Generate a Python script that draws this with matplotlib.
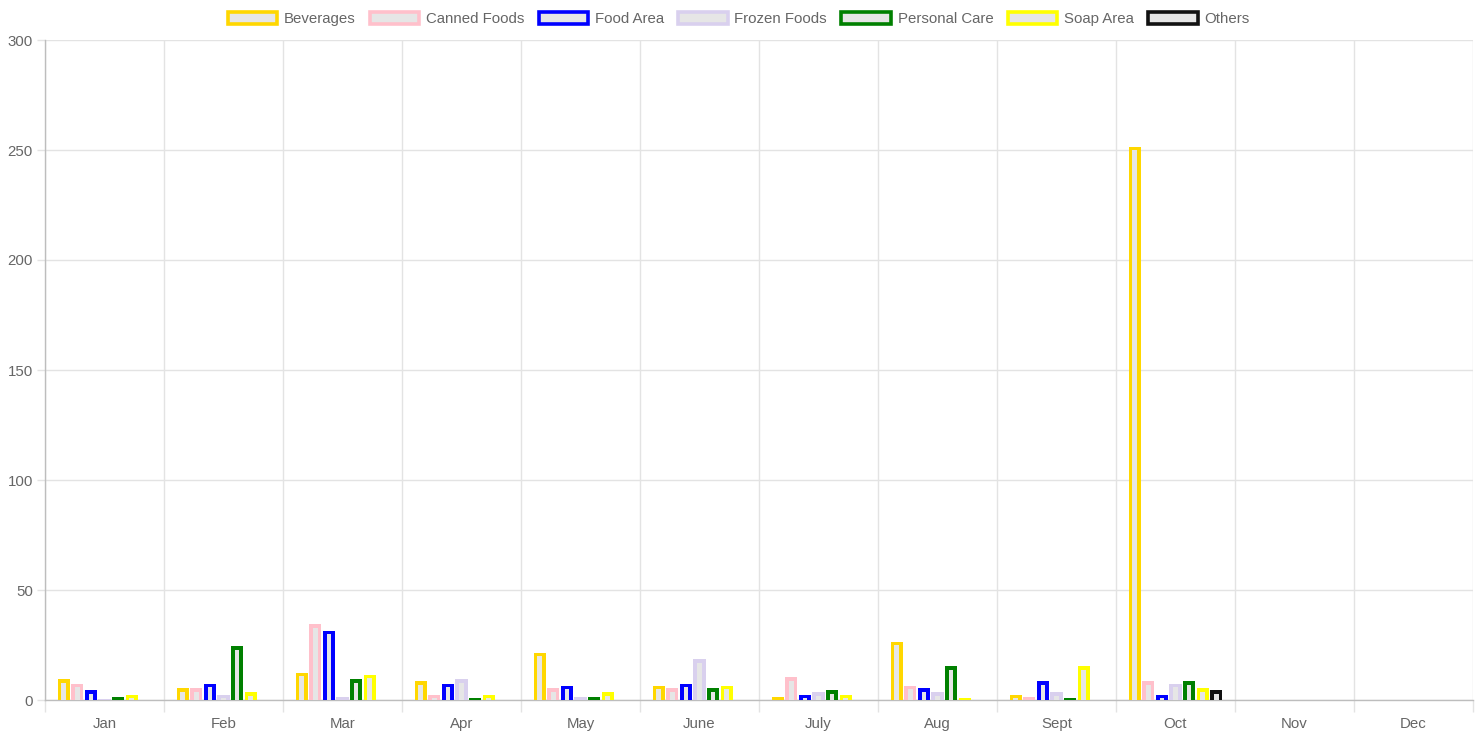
import numpy as np
import matplotlib
matplotlib.use("Agg")
import matplotlib.pyplot as plt
from matplotlib.patches import Patch

plt.rcParams['font.family'] = ['Liberation Sans', 'DejaVu Sans']

# data
months = ["Jan", "Feb", "Mar", "Apr", "May", "June", "July", "Aug", "Sept", "Oct", "Nov", "Dec"]
series_names = ["Beverages", "Canned Foods", "Food Area", "Frozen Foods", "Personal Care", "Soap Area", "Others"]
series_colors = ["#ffd700", "#ffc0cb", "#0000ff", "#d9d0ee", "#008000", "#ffff00", "#111111"]

beverages = [9.5, 5.5, 12.5, 8.5, 21.5, 6.5, 1.5, 26.5, 2.5, 251.5, 0, 0]
canned_foods = [7.5, 5.5, 34.5, 2.5, 5.5, 5.5, 10.5, 6.5, 1.5, 8.5, 0, 0]
food_area = [4.5, 7.5, 31.5, 7.5, 6.5, 7.5, 2.5, 5.5, 8.5, 2.5, 0, 0]
frozen_foods = [0.6, 2.5, 1.5, 9.5, 1.5, 18.5, 3.5, 3.5, 3.5, 7.5, 0, 0]
personal_care = [1.5, 24.5, 9.5, 0.8, 1.5, 5.5, 4.5, 15.5, 0.8, 8.5, 0, 0]
soap_area = [2.5, 3.5, 11.5, 2.5, 3.5, 6.5, 2.5, 0.8, 15.5, 5.5, 0, 0]
others = [0, 0, 0, 0, 0, 0, 0, 0, 0, 4.5, 0, 0]

all_series = [beverages, canned_foods, food_area, frozen_foods, personal_care, soap_area, others]

W, H = 1477, 738
fig = plt.figure(figsize=(W / 100, H / 100), dpi=100)
ax = fig.add_axes([45 / W, 38 / H, (1473 - 45) / W, (700 - 40) / H])

grid_col = "#e3e3e3"
axis_col = "#bdbdbd"
text_col = "#666666"
fill_col = "#e6e6e6"

x = np.arange(len(months))
n = len(all_series)
slot = 0.8 / n
bw = slot * 0.9
px_x = 1.0 / 119          # data units per pixel, x
px_y = 300.0 / 660        # data units per pixel, y
border = 3.75

for i, (vals, col) in enumerate(zip(all_series, series_colors)):
    vals = np.array(vals, dtype=float)
    pos = x + (i - (n - 1) / 2) * slot
    shown = vals > 0
    # outer bar in border colour
    ax.bar(pos[shown], vals[shown], width=bw, color=col, linewidth=0, zorder=3)
    # inner fill inset by the border width (no border on the bottom)
    inner = np.clip(vals - border * px_y, 0, None)
    ax.bar(pos[shown], inner[shown], width=bw - 2 * border * px_x,
           color=fill_col, linewidth=0, zorder=4)

ax.set_xlim(-0.5, len(months) - 0.5)
ax.set_ylim(0, 300)
ax.set_yticks(np.arange(0, 301, 50))
ax.set_xticks(np.arange(-0.5, len(months), 1))
ax.set_xticklabels([])
ax.set_xticks(x, minor=True)
ax.set_xticklabels(months, minor=True)

ax.grid(True, which="major", color=grid_col, linewidth=1, zorder=0)
ax.set_axisbelow(True)
ax.tick_params(axis="x", which="major", length=8.6, color=grid_col, width=1)
ax.tick_params(axis="x", which="minor", length=0, pad=12, labelsize=10.8, labelcolor=text_col)
ax.tick_params(axis="y", length=5.8, color=grid_col, width=1, pad=3, labelsize=10.8, labelcolor=text_col)

for s in ["top", "right"]:
    ax.spines[s].set_visible(False)
for s in ["left", "bottom"]:
    ax.spines[s].set_color(axis_col)
    ax.spines[s].set_linewidth(1)

handles = [Patch(facecolor=fill_col, edgecolor=c, linewidth=2.6) for c in series_colors]
fig.legend(handles, series_names, loc="center", bbox_to_anchor=(0.5, 1 - 19 / H), ncol=7,
           frameon=False, fontsize=10.8, labelcolor=text_col, handlelength=3.3,
           handleheight=0.9, handletextpad=0.45, columnspacing=0.95, borderaxespad=0)

fig.savefig("out.png", dpi=100)
